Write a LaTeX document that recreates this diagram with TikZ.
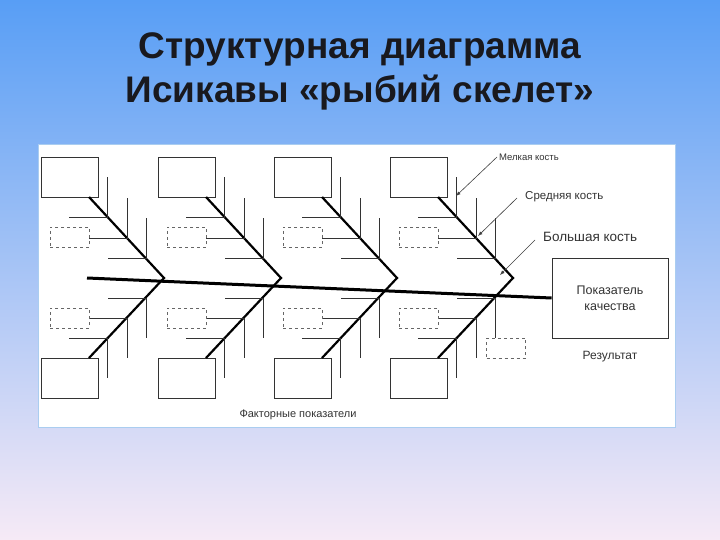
\documentclass[tikz,border=0pt]{standalone}
\usepackage{fontspec}
\setmainfont{Liberation Sans}
\begin{document}
\begin{tikzpicture}[x=1pt,y=-1pt,
  bigbone/.style={line width=2.2pt},
  minor/.style={line width=0.9pt,draw=black!80},
  solidbox/.style={draw=black!80,line width=0.8pt,fill=white},
  dashbox/.style={draw=black!60,dashed,line width=0.8pt},
  pointer/.style={draw=black!75,line width=0.6pt,-latex},
  lbl/.style={text=black!80,inner sep=0pt}]
\shade[top color={rgb,255:red,88;green,158;blue,245},bottom color={rgb,255:red,246;green,234;blue,246}] (0,0) rectangle (720,540);
\useasboundingbox (0,0) rectangle (720,540);
\node[text={rgb,255:red,25;green,25;blue,30},font=\fontsize{37}{44}\selectfont\bfseries,align=center] (title) at (360,71) {Структурная диаграмма\\Исикавы «рыбий скелет»};
\fill[white,draw={rgb,255:red,170;green,205;blue,240},line width=1pt] (38,145) rectangle (675,427);
% spine
\node[solidbox,minimum width=116pt,minimum height=80pt,align=center,font=\fontsize{12.5}{16}\selectfont,text=black!80] (res) at (610,298) {Показатель\\качества};
\coordinate (s0) at (87,278);
\draw[line width=3pt] (s0) -- (res.west);
\foreach \j [count=\i] in {164,281,397,513}{
  \coordinate (j\i) at (\j,278);
  \node[solidbox,minimum width=57pt,minimum height=40pt] (tb\i) at (\j-94.5,177) {};
  \node[solidbox,minimum width=57pt,minimum height=40pt] (bb\i) at (\j-94.5,378.5) {};
  \coordinate (tu\i) at (\j-75,197);
  \coordinate (tl\i) at (\j-75,358);
  \draw[bigbone] (tu\i) -- (j\i) -- (tl\i);
  \foreach \px/\py in {57/217,37/238,18/258}{
    \draw[minor] (\j-\px-38,\py) -- (\j-\px,\py) -- (\j-\px,\py-40);
  }
  \foreach \px/\py in {18/298,37/318,57/338}{
    \draw[minor] (\j-\px-38,\py) -- (\j-\px,\py) -- (\j-\px,\py+40);
  }
  \node[dashbox,minimum width=39pt,minimum height=20pt] (du\i) at (\j-94.5,237) {};
  \node[dashbox,minimum width=39pt,minimum height=20pt] (dl\i) at (\j-94.5,318) {};
}
\node[dashbox,fill=white,minimum width=39pt,minimum height=20pt] (dx) at (506,348) {};
% labels
\node[lbl,anchor=west,font=\fontsize{9.5}{11}\selectfont] (mel) at (499,157) {Мелкая кость};
\node[lbl,anchor=west,font=\fontsize{11.5}{13}\selectfont] (sred) at (525,197) {Средняя кость};
\node[lbl,anchor=west,font=\fontsize{13.5}{15}\selectfont] (bol) at (543,237) {Большая кость};
\coordinate (a1) at (456,196);
\coordinate (a2) at (478,236);
\coordinate (a3) at (500,275);
\draw[pointer] (mel.west) ++(-2,0) -- (a1);
\draw[pointer] (sred.west) ++(-8,1) -- (a2);
\draw[pointer] (bol.west) ++(-8,3) -- (a3);
\node[lbl,font=\fontsize{12}{14}\selectfont] (rez) at (610,357) {Результат};
\node[lbl,font=\fontsize{11}{13}\selectfont] (fak) at (298,415) {Факторные показатели};
\end{tikzpicture}
\end{document}
